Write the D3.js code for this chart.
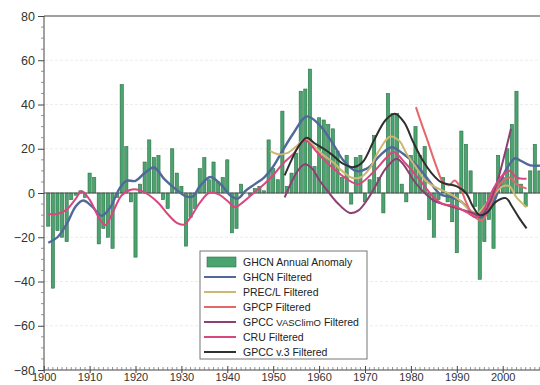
<!DOCTYPE html>
<html>
<head>
<meta charset="utf-8">
<script src="https://cdn.jsdelivr.net/npm/d3@7"></script>
<style>
  body { margin: 0; background: #fff; }
  svg { display: block; font-family: "Liberation Sans", Arial, sans-serif; }
</style>
</head>
<body>
<svg id="chart" width="540" height="385"></svg>
<script>
// annual anomaly bars, one value per year from firstYear on
var firstYear = 1901;
var anomaly = [
  -15, -43, -17, -20, -22, -3, -1, 1, -2, 9,      // 1901-1910
  7, -23, -16, -20, -25, -2, 49, 21, -4, -29,     // 1911-1920
  4, 14, 24, 16, 17, -3, -7, 20, 9, 3,            // 1921-1930
  -24, -11, -7, 11, 16, 6, 14, 5, 7, 15,          // 1931-1940
  -18, -16, 4, 0, -1, 2, 3, 1, 24, 11,            // 1941-1950
  6, 37, 3, 9, 18, 46, 47, 56, 12, 34,            // 1951-1960
  33, 31, 29, 19, 7, 17, -5, 16, 17, -4,          // 1961-1970
  6, 26, 7, -9, 45, 36, 36, 4, -4, 17,            // 1971-1980
  30, 17, 21, -12, -20, -3, 7, -4, -13, -27,      // 1981-1990
  28, 22, 10, -6, -39, -22, -12, -25, 17, 7,      // 1991-2000
  20, 31, 46, 4, -6, 10, 22, 10                   // 2001-2008
];

// filtered series, [year, value]
var ghcnFiltered = [
  [1901, -22.5], [1903, -20], [1905, -14], [1907, -6], [1908.6, -3.4], [1910.5, -6],
  [1912.6, -10.3], [1914.5, -6.5], [1916.5, 2], [1918, 5.5], [1920, 5.5], [1922, 9],
  [1924, 11.5], [1926.4, 6], [1928.6, 2], [1931, -1.5], [1932.5, -1.5], [1934, 3],
  [1936.3, 7.2], [1938.8, 3.4], [1940.6, -1], [1942.3, -2.5], [1944, 1], [1946, 4],
  [1948, 7], [1950, 12], [1952, 19], [1954.4, 27], [1957.3, 34.6], [1960.2, 30.5],
  [1963.1, 22], [1965.3, 14.7], [1968, 10], [1970.4, 11], [1973.3, 17], [1975.8, 20.7],
  [1978.3, 17.7], [1981.3, 12.4], [1984.2, 4.9], [1986.3, -0.4], [1989, -2], [1991, -4],
  [1993.5, -9], [1995.4, -11], [1997, -8], [1998.5, -2], [2000.1, 8], [2001.5, 13],
  [2002.7, 15.7], [2004, 14.5], [2006, 12.5], [2008.2, 12.4]
];
var precl = [
  [1949.3, 19], [1951, 17.5], [1953, 18], [1955, 21], [1957, 24.5], [1959, 21],
  [1961, 17], [1963, 14], [1965, 10], [1967, 7], [1969, 7], [1971, 11], [1973, 19],
  [1975.5, 25.5], [1977.5, 23.5], [1979, 18], [1981, 12], [1983, 6], [1985, 3],
  [1987, 1], [1989, -1], [1991, -4], [1993, -8], [1994.5, -9], [1996, -6], [1998, -1],
  [2000, 3], [2001.5, 3], [2003, -2], [2005.2, -6.4]
];
var gpcp = [
  [1981.1, 38.8], [1982.2, 32], [1983.4, 25], [1985.6, 11.7], [1987, 4.9], [1988.3, 3.5],
  [1989.5, 5.6], [1990.5, 3.5], [1992, -4], [1993.5, -10], [1995.5, -12.4], [1997, -7],
  [1999, 3], [2001.5, 7], [2003, 4], [2005.2, 2]
];
var vasclimo = [
  [1952.5, -2], [1954, 5], [1955.5, 10.5], [1956.9, 13], [1958.5, 11], [1960, 6],
  [1962, 0.5], [1964, -4.5], [1966.7, -9], [1968.5, -8], [1970.5, -3], [1972.5, 4],
  [1974.5, 11], [1976.9, 15.5], [1978.5, 12.5], [1980.5, 6], [1982.5, 1], [1985, -3.4],
  [1987, -5], [1989.2, -6.4], [1991, -7.5], [1993.5, -9], [1995.5, -10], [1997, -5],
  [1998.5, 3], [2000, 14], [2001.8, 29]
];
var cru = [
  [1901, -9.5], [1903, -9.5], [1905, -7.5], [1907, -2.5], [1908.3, 0.8], [1910, -3],
  [1912, -11], [1913.4, -14.5], [1915, -9], [1917, -1], [1919, 1.5], [1921, 1.2],
  [1923, -1], [1925, -4.5], [1927, -9.5], [1929, -13.5], [1930.5, -14.3], [1932, -11],
  [1934, -4.5], [1936, 0], [1938, -0.5], [1940, -3.5], [1941.7, -6.4], [1943.5, -4],
  [1946, 0.5], [1948, 4], [1950, 8], [1952, 13], [1954.4, 17.7], [1956.9, 23.8],
  [1959.5, 18.5], [1962.4, 12.4], [1966, 6.4], [1968.5, 4], [1971.8, 9.4], [1974.7, 16],
  [1976.2, 18.5], [1979, 13], [1982, 5.7], [1985, -2], [1987, -5], [1989.2, -5.7],
  [1992.2, -8.7], [1994.3, -11], [1996, -7], [1998, 2], [2000, 8], [2001.5, 10],
  [2003, 7], [2005.2, 6.4]
];
var gpccV3 = [
  [1952.5, 8], [1954, 15], [1955.5, 21], [1957.3, 25], [1959, 22.5], [1961, 20],
  [1963, 17], [1965, 13.5], [1967.5, 11.7], [1969.5, 14], [1972, 24], [1974.5, 33],
  [1976.5, 35.8], [1978.5, 32], [1980.5, 23], [1982.5, 15], [1984.5, 9], [1986.5, 5],
  [1988, 4], [1990, 3], [1992, 0], [1993.5, -6], [1995, -10], [1996.5, -9],
  [1998.5, -4], [2000.7, -2.3], [2002, -6], [2003.5, -11], [2005.2, -16]
];

var yTicks = [80, 60, 40, 20, 0, -20, -40, -60, -80];
var xTicks = [1900, 1910, 1920, 1930, 1940, 1950, 1960, 1970, 1980, 1990, 2000];

var seriesNames = ["GHCN Filtered", "PREC/L Filtered", "GPCP Filtered",
                   "GPCC VASClimO Filtered", "CRU Filtered", "GPCC v.3 Filtered"];
var seriesData = [ghcnFiltered, precl, gpcp, vasclimo, cru, gpccV3];
var seriesColors = ["#50699a", "#cdb872", "#e4676a", "#8c3f72", "#d9477f", "#2f2f2f"];

var svg = d3.select("#chart");

var x = d3.scaleLinear()
          .domain([1900, 2010])
          .range([43.7, 43.7 + 110 * 4.59]);

var y = d3.scaleLinear()
          .domain([-80, 80])
          .range([370, 16]);

// faint grid
svg.append("g")
  .selectAll("line")
  .data(yTicks.filter(d => d !== 80 && d !== -80 && d !== 0))
  .enter()
  .append("line")
    .attr("x1", 45)
    .attr("x2", 540)
    .attr("y1", d => y(d))
    .attr("y2", d => y(d))
    .attr("stroke", "#ececec")
    .attr("stroke-width", 1)
    .attr("stroke-dasharray", "3,2");

// bars
var bars = anomaly.map((v, i) => ({ year: firstYear + i, value: v }));
var barW = 3.2;

svg.append("g")
  .selectAll("rect")
  .data(bars)
  .enter()
  .append("rect")
    .attr("x", d => x(d.year) - barW / 2)
    .attr("y", d => y(Math.max(0, d.value)))
    .attr("width", barW)
    .attr("height", d => Math.abs(y(d.value) - y(0)))
    .attr("fill", "#4aa46d")
    .attr("stroke", "#2c6e47")
    .attr("stroke-width", 0.6);

// zero line
svg.append("line")
    .attr("x1", 44)
    .attr("x2", 540)
    .attr("y1", y(0))
    .attr("y2", y(0))
    .attr("stroke", "#555")
    .attr("stroke-width", 1);

// filtered lines
var line = d3.line()
             .x(d => x(d[0]))
             .y(d => y(d[1]))
             .curve(d3.curveCatmullRom.alpha(0.5));

svg.append("g")
  .selectAll("path")
  .data(seriesData)
  .enter()
  .append("path")
    .attr("d", line)
    .attr("fill", "none")
    .attr("stroke", (d, i) => seriesColors[i])
    .attr("stroke-width", (d, i) => i === 0 ? 2.4 : 2)
    .attr("stroke-linejoin", "round");

// frame: left axis, top line, bottom axis
svg.append("line")
    .attr("x1", 44).attr("x2", 44)
    .attr("y1", 16).attr("y2", 370)
    .attr("stroke", "#444").attr("stroke-width", 1);
svg.append("line")
    .attr("x1", 44).attr("x2", 540)
    .attr("y1", 16).attr("y2", 16)
    .attr("stroke", "#444").attr("stroke-width", 1.2);
svg.append("line")
    .attr("x1", 44).attr("x2", 540)
    .attr("y1", 370).attr("y2", 370)
    .attr("stroke", "#444").attr("stroke-width", 1);

// y axis
var yAxis = d3.axisLeft(y)
              .tickValues(yTicks)
              .tickSize(6)
              .tickPadding(3);

svg.append("g")
    .attr("transform", "translate(44,0)")
    .call(yAxis)
    .call(g => g.select(".domain").remove())
    .call(g => g.selectAll("line").attr("stroke", "#444"))
    .call(g => g.selectAll("text")
                .attr("font-size", "12.5px")
                .attr("fill", "#333")
                .attr("font-family", "Liberation Sans, Arial, sans-serif"));

// minor y ticks
svg.append("g")
  .selectAll("line")
  .data(d3.range(-80, 81, 5).filter(d => d % 20 !== 0))
  .enter()
  .append("line")
    .attr("x1", 41)
    .attr("x2", 44)
    .attr("y1", d => y(d))
    .attr("y2", d => y(d))
    .attr("stroke", "#777")
    .attr("stroke-width", 0.8);

// x axis (labels squeezed against the bottom edge, as in the scan)
var xAxis = d3.axisBottom(x)
              .tickValues(xTicks)
              .tickFormat(d3.format("d"))
              .tickSize(3)
              .tickPadding(0);

svg.append("g")
    .attr("transform", "translate(0,370)")
    .call(xAxis)
    .call(g => g.select(".domain").remove())
    .call(g => g.selectAll("line").attr("stroke", "#444").attr("y1", -4))
    .call(g => g.selectAll("text")
                .attr("font-size", "11px")
                .attr("fill", "#333")
                .attr("font-family", "Liberation Sans, Arial, sans-serif"));

// minor x ticks, one per year
svg.append("g")
  .selectAll("line")
  .data(d3.range(1901, 2010).filter(d => d % 10 !== 0))
  .enter()
  .append("line")
    .attr("x1", d => x(d))
    .attr("x2", d => x(d))
    .attr("y1", 367)
    .attr("y2", 370)
    .attr("stroke", "#666")
    .attr("stroke-width", 0.7);

// legend
var legend = svg.append("g")
                .attr("transform", "translate(200,251)");

legend.append("rect")
    .attr("width", 167)
    .attr("height", 108)
    .attr("fill", "#fff")
    .attr("stroke", "#777")
    .attr("stroke-width", 1);

legend.append("rect")
    .attr("x", 7)
    .attr("y", 6)
    .attr("width", 29)
    .attr("height", 10)
    .attr("fill", "#4aa46d")
    .attr("stroke", "#2c6e47")
    .attr("stroke-width", 0.6);

legend.append("text")
    .attr("x", 43)
    .attr("y", 11)
    .attr("dy", "0.35em")
    .attr("font-size", "10.5px")
    .attr("fill", "#222")
    .text("GHCN Annual Anomaly");

var items = legend.selectAll(".item")
                  .data(seriesNames)
                  .enter()
                  .append("g")
                    .classed("item", true)
                    .attr("transform", (d, i) => "translate(0," + (26 + i * 15) + ")");

items.append("line")
    .attr("x1", 4)
    .attr("x2", 36)
    .attr("stroke", (d, i) => seriesColors[i])
    .attr("stroke-width", 2);

items.append("text")
    .attr("x", 43)
    .attr("dy", "0.35em")
    .attr("font-size", "10.5px")
    .attr("fill", "#222")
    .each(function(d) {
      var t = d3.select(this);
      if (d.indexOf("VASClimO") >= 0) {
        t.append("tspan").text("GPCC ");
        t.append("tspan").attr("font-size", "9.5px").text("VASClimO");
        t.append("tspan").text(" Filtered");
      } else {
        t.text(d);
      }
    });
</script>
</body>
</html>
